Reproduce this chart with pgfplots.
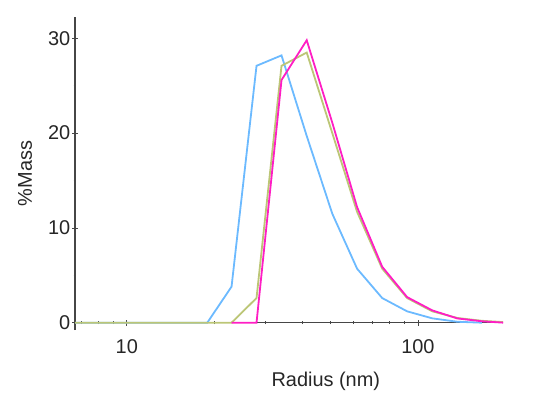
\documentclass[border=0pt]{standalone}
\usepackage{pgfplots}
\pgfplotsset{compat=1.18}
\usepackage{fontspec}
\setmainfont{Liberation Sans}

\definecolor{dlsblue}{RGB}{108,186,255}
\definecolor{dlsgreen}{RGB}{188,198,118}
\definecolor{dlspink}{RGB}{255,30,196}
\definecolor{axisgray}{RGB}{70,70,70}

\begin{document}
\begin{tikzpicture}
\begin{axis}[
  scale only axis,
  width=428bp, height=313bp,
  xmode=log,
  xmin=6.64, xmax=196,
  ymin=-0.77, ymax=32.25,
  axis x line*=middle,
  axis y line*=left,
  hide obscured x ticks=false,
  hide obscured y ticks=false,
  axis line style={color=axisgray, line width=1.3bp},
  xtick={10,100},
  minor xtick={7,8,9,20,30,40,50,60,70,80,90},
  log ticks with fixed point,
  ytick={0,10,20,30},
  minor ytick={5,15,25},
  tick align=center,
  major tick length=6bp,
  minor tick length=3bp,
  tick style={color=axisgray, line width=0.8bp},
  /pgf/number format/assume math mode=true,
  ticklabel style={font=\fontsize{20}{24}\selectfont, color=black!85},
  yticklabel style={inner xsep=1.5bp},
  xticklabel style={yshift=-10bp},
  every axis x label/.style={at={(axis description cs:0.586,0)}, anchor=center, yshift=-51bp,
    font=\fontsize{20}{24}\selectfont, color=black!85},
  every axis y label/.style={at={(axis description cs:0,0.5)}, anchor=center, rotate=90, yshift=50bp,
    font=\fontsize{20}{24}\selectfont, color=black!85},
  xlabel={Radius (nm)},
  ylabel={\%Mass},
  every axis plot/.append style={line width=1.8bp, mark=none},
]
\addplot[dlsblue] coordinates {
  (6,0) (18.9,0) (22.9,3.8) (27.9,27.1) (34.0,28.2) (41.5,19.7) (50.8,11.5)
  (61.8,5.7) (75.4,2.6) (91.8,1.2) (112,0.46) (136.6,0.1) (166,0)
};
\addplot[dlsgreen] coordinates {
  (6,0) (22.9,0) (27.9,2.6) (34.0,27.1) (41.5,28.5) (50.8,20.0) (61.8,11.7)
  (75.4,5.7) (91.8,2.6) (112,1.2) (136.6,0.5) (166,0.2) (200,0.05)
};
\addplot[dlspink] coordinates {
  (22.9,0) (27.9,0) (34.0,25.6) (41.5,29.8) (50.8,21.1) (61.8,12.2)
  (75.4,5.9) (91.8,2.7) (112,1.3) (136.6,0.45) (166,0.15) (197,0)
};
\coordinate (bl) at (rel axis cs:0,0);
\coordinate (tr) at (rel axis cs:1,1);
\end{axis}
\pgfresetboundingbox
\path ([shift={(-75bp,-72bp)}]bl) rectangle ([shift={(44bp,17bp)}]tr);
\end{tikzpicture}
\end{document}
